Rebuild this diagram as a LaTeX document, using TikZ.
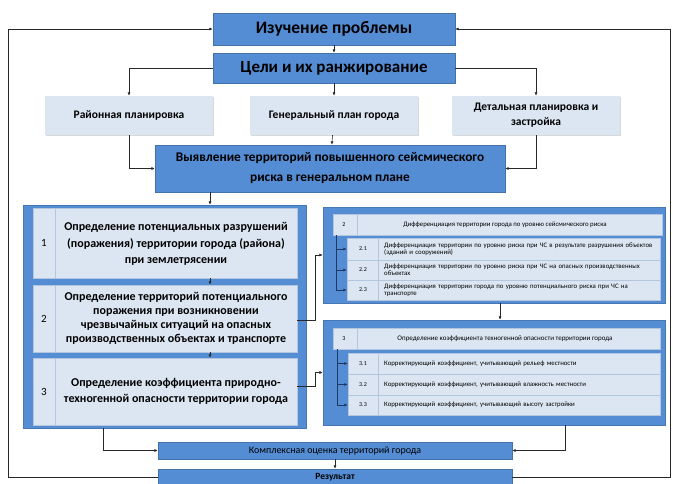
\documentclass[tikz,border=0pt]{standalone}
\usepackage{fontspec}
\setmainfont{Carlito}
\usetikzlibrary{arrows.meta,positioning,shadows}
\definecolor{dkblue}{RGB}{84,141,212}
\definecolor{ltblue}{RGB}{220,230,242}
\definecolor{rowline}{RGB}{178,198,224}
\definecolor{conn}{RGB}{40,40,40}
\definecolor{navy}{RGB}{31,56,100}

\begin{document}
\begin{tikzpicture}[
  x=1pt, y=-1pt,
  topbox/.style={fill=dkblue, draw=dkblue!80!black, line width=0.3pt, align=center, inner sep=1pt},
  planbox/.style={fill=ltblue, align=center, inner sep=1pt, minimum width=168pt, minimum height=39pt,
    font=\fontsize{11.5}{15}\selectfont\bfseries,
    drop shadow={shadow xshift=1.2pt, shadow yshift=-1.2pt, opacity=0.3, fill=gray}},
  panel/.style={fill=dkblue, draw=dkblue!85!black, line width=0.3pt, inner sep=0pt},
  numcol/.style={path picture={\draw[rowline, line width=0.5pt]
    ([xshift=#1]path picture bounding box.north west) -- ([xshift=#1]path picture bounding box.south west);}},
  row/.style={fill=ltblue, draw=rowline, line width=0.4pt, inner sep=0pt},
  bigtxt/.style={align=center, inner sep=0pt, font=\fontsize{12}{16.5}\selectfont\bfseries},
  smalltxt/.style={align=left, anchor=west, text width=270pt, inner sep=0pt, font=\fontsize{6.8}{7.4}\selectfont},
  num/.style={font=\fontsize{11}{12}\selectfont},
  smallnum/.style={font=\fontsize{6}{6}\selectfont},
  arrow/.style={-{Latex[length=3.5pt,width=3pt]}, conn, line width=0.6pt},
  subarrow/.style={-{Latex[length=3.5pt,width=3pt]}, navy, line width=0.8pt}
]
\useasboundingbox (0,0) rectangle (673,484);
\fill[white] (0,0) rectangle (673,484);

% top of the chain
\node[topbox, minimum width=242pt, minimum height=32pt, font=\fontsize{17.5}{19}\selectfont\bfseries] (izuch) at (334,29) {Изучение проблемы};
\node[topbox, minimum width=242pt, minimum height=30pt, font=\fontsize{17}{19}\selectfont\bfseries] (celi) at (334,68) {Цели и их ранжирование};

\node[planbox] (rayon) at (129,115.5) {Районная планировка};
\node[planbox] (genplan) at (334,115.5) {Генеральный план города};
\node[planbox] (detal) at (536,115.5) {Детальная планировка и\\застройка};

\node[topbox, minimum width=350pt, minimum height=47pt, font=\fontsize{13.3}{20}\selectfont\bfseries] (vyyav) at (330,168.5) {Выявление территорий повышенного сейсмического\\риска в генеральном плане};

% left panel
\node[panel, minimum width=283pt, minimum height=223pt] (leftpanel) at (164.5,316.5) {};
\node[row, numcol=22pt, minimum width=264pt, minimum height=70pt] (row1) at (165,243) {};
\node[row, numcol=22pt, minimum width=264pt, minimum height=67pt] (row2) at (165,318.5) {};
\node[row, numcol=22pt, minimum width=264pt, minimum height=67pt] (row3) at (165,391.5) {};
\node[num] (row1num) at (44,243) {1};
\node[num] (row2num) at (44,318.5) {2};
\node[num] (row3num) at (44,391.5) {3};
\node[bigtxt] (row1txt) at (176,244) {Определение потенциальных разрушений\\(поражения) территории города (района)\\при землетрясении};
\node[bigtxt, font=\fontsize{12}{13.8}\selectfont\bfseries] (row2txt) at (176,318.5) {Определение территорий потенциального\\поражения при возникновении\\чрезвычайных ситуаций на опасных\\производственных объектах и транспорте};
\node[bigtxt] (row3txt) at (176,391.5) {Определение коэффициента природно-\\техногенной опасности территории города};

% right panel, seismic risk
\node[panel, minimum width=342pt, minimum height=96pt] (rtpanel) at (494,255) {};
\node[row, numcol=24pt, minimum width=329pt, minimum height=21pt] (rthead) at (497.5,224.5) {};
\node[smallnum] at (344,224.5) {2};
\node[font=\fontsize{6.8}{7}\selectfont] (rtheadtxt) at (505,224.5) {Дифференциация территории города по уровню сейсмического риска};
\node[row, numcol=31pt, minimum width=313pt, minimum height=22pt] (rt1) at (503.5,249) {};
\node[row, numcol=31pt, minimum width=313pt, minimum height=20pt] (rt2) at (503.5,270) {};
\node[row, numcol=31pt, minimum width=313pt, minimum height=20pt] (rt3) at (503.5,290) {};
\node[smallnum] at (363,249) {2.1};
\node[smallnum] at (363,270) {2.2};
\node[smallnum] at (363,290) {2.3};
\node[smalltxt] (rt1txt) at (384,249) {Дифференциация территории по уровню риска при ЧС в результате разрушения объектов\\(зданий и сооружений)};
\node[smalltxt] (rt2txt) at (384,270) {Дифференциация территории по уровню риска при ЧС на опасных производственных объектах};
\node[smalltxt] (rt3txt) at (384,290) {Дифференциация территории города по уровню потенциального риска при ЧС на транспорте};

% right panel, hazard coefficient
\node[panel, minimum width=342pt, minimum height=105pt] (rbpanel) at (494,372.5) {};
\node[row, numcol=24pt, minimum width=327pt, minimum height=21pt] (rbhead) at (496.5,338.5) {};
\node[smallnum] at (344,338.5) {3};
\node[font=\fontsize{7}{7}\selectfont] (rbheadtxt) at (505,338.5) {Определение коэффициента техногенной опасности территории города};
\node[row, numcol=30pt, minimum width=312pt, minimum height=21pt] (rb1) at (504,363.5) {};
\node[row, numcol=30pt, minimum width=312pt, minimum height=21pt] (rb2) at (504,384.5) {};
\node[row, numcol=30pt, minimum width=312pt, minimum height=20pt] (rb3) at (504,405) {};
\node[smallnum] at (363,363.5) {3.1};
\node[smallnum] at (363,384.5) {3.2};
\node[smallnum] at (363,405) {3.3};
\node[smalltxt] (rb1txt) at (384,363.5) {Корректирующий коэффициент, учитывающий рельеф местности};
\node[smalltxt] (rb2txt) at (384,384.5) {Корректирующий коэффициент, учитывающий влажность местности};
\node[smalltxt] (rb3txt) at (384,405) {Корректирующий коэффициент, учитывающий высоту застройки};

% bottom
\node[topbox, minimum width=354pt, minimum height=17pt, font=\fontsize{10}{11}\selectfont] (kompl) at (335,450.5) {Комплексная оценка территорий города};
\node[topbox, minimum width=354pt, minimum height=16pt, font=\fontsize{9.5}{10}\selectfont\bfseries] (result) at (335,477) {Результат};

% Arrows
\coordinate (colx) at (210,0);
\draw[arrow] (izuch) -- (celi);
\draw[arrow] (celi.west) -| (rayon.north);
\draw[arrow] (celi) -- (genplan);
\draw[arrow] (celi.east) -| (detal.north);
\draw[arrow] (rayon.south) |- (vyyav.west);
\draw[arrow] (genplan) -- (vyyav);
\draw[arrow] (detal.south) |- (vyyav.east);
\draw[arrow] (vyyav.south -| colx) -- (leftpanel.north -| colx);
\draw[arrow] (row1.south -| colx) -- (row2.north -| colx);
\draw[arrow] (row2.south -| colx) -- (row3.north -| colx);
\draw[arrow] ([yshift=-1.5pt]row2.east) -- ++(18,0) |- (rtpanel.west);
\draw[arrow] ([yshift=5.5pt]row3.east) -- ++(18,0) |- (rbpanel.west);
\draw[arrow] ([xshift=6pt]rtpanel.south) -- ([xshift=6pt]rbpanel.north);
\draw[subarrow] (rthead.south -| 336,0) |- (rt1.west);
\draw[subarrow] (rthead.south -| 336,0) |- (rt2.west);
\draw[subarrow] (rthead.south -| 336,0) |- (rt3.west);
\draw[subarrow] (rbhead.south -| 337,0) |- (rb1.west);
\draw[subarrow] (rbhead.south -| 337,0) |- (rb2.west);
\draw[subarrow] (rbhead.south -| 337,0) |- (rb3.west);
\draw[arrow] ([xshift=80pt]leftpanel.south west) |- (kompl.west);
\draw[arrow] ([xshift=-100pt]rbpanel.south east) |- (kompl.east);
\draw[arrow] (kompl) -- (result);
% feedback loop
\draw[arrow] (result.west) -- (8,477) |- (izuch.west);
\draw[arrow] (result.east) -- (670,477) |- (izuch.east);

\end{tikzpicture}
\end{document}
